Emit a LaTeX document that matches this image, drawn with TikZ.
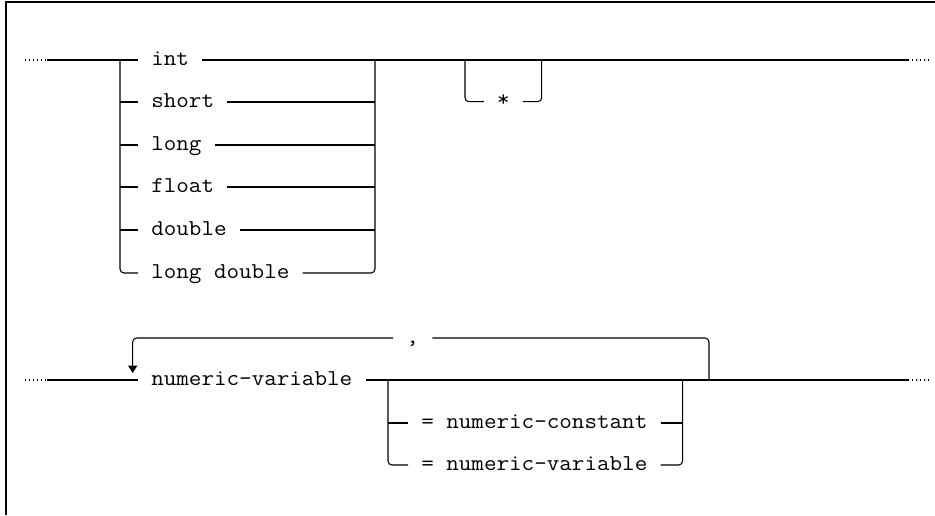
\documentclass[tikz,border=0pt]{standalone}
\usepackage{fontspec}
\newfontfamily\monofam{Latin Modern Mono}[FakeStretch=1.076]
\usetikzlibrary{arrows.meta}
\begin{document}
\begin{tikzpicture}[x=0.75pt,y=-0.75pt,
  rail/.style={line width=0.8pt,black},
  dotrail/.style={line width=0.8pt,black,dash pattern=on 0.75pt off 2.25pt},
  kw/.style={font=\monofam\fontsize{17pt}{20pt}\selectfont, inner xsep=9.75pt, inner ysep=0pt, text height=9pt, text depth=1.5pt},
  frame/.style={line width=1.75pt,black}]
\useasboundingbox (0,0) rectangle (935,515);
\draw[frame] (6,515) -- (6,2) -- (935,2);

% ---- upper diagram ----
\node[kw,anchor=west] (n1) at (138,60) {int};
\node[kw,anchor=west] (n2) at (138,102) {short};
\node[kw,anchor=west] (n3) at (138,145) {long};
\node[kw,anchor=west] (n4) at (138,187) {float};
\node[kw,anchor=west] (n5) at (138,230) {double};
\node[kw,anchor=west] (n6) at (138,273) {long double};
\node[kw] (star) at (503.3,101.7) {*};
\coordinate (L1) at (120,60);
\coordinate (R1) at (375,60);
\coordinate (S1) at (465,60);
\coordinate (S2) at (541.7,60);
\coordinate (E1) at (908,60);
\coordinate (D1) at (932,60);
\coordinate (B1) at (25,60);
\coordinate (B2) at (47,60);

\draw[dotrail] (B1) -- (B2);
\draw[rail] (B2) -- (n1.west);
\draw[rail,rounded corners=3pt] (L1) -- (L1 |- n6.west) -- (n6.west);
\foreach \n in {n2,n3,n4,n5} \draw[rail] (L1 |- \n.west) -- (\n.west);
\foreach \n in {n1,n2,n3,n4,n5} \draw[rail] (\n.east) -- (R1 |- \n.east);
\draw[rail,rounded corners=3pt] (n6.east) -- (R1 |- n6.east) -- (R1);
\draw[rail] (R1) -- (E1);
\draw[dotrail] (E1) -- (D1);
\draw[rail,rounded corners=3pt] (S1) -- (S1 |- star.west) -- (star.west);
\draw[rail,rounded corners=3pt] (star.east) -- (S2 |- star.east) -- (S2);

% ---- lower diagram ----
\node[kw,anchor=west] (nv) at (138,380) {numeric-variable};
\node[kw,anchor=west] (oc) at (408,423) {= numeric-constant};
\node[kw,anchor=west] (ov) at (408,465) {= numeric-variable};
\node[kw] (comma) at (412.7,338) {,};
\coordinate (B3) at (25,380);
\coordinate (B4) at (47,380);
\coordinate (L2) at (388,380);
\coordinate (R2) at (682.6,380);
\coordinate (P1) at (709,380);
\coordinate (A1) at (132.7,373);
\coordinate (E2) at (908,380);
\coordinate (D2) at (932,380);

\draw[dotrail] (B3) -- (B4);
\draw[rail] (B4) -- (nv.west);
\draw[rail] (nv.east) -- (E2);
\draw[dotrail] (E2) -- (D2);
\draw[rail,rounded corners=3pt] (L2) -- (L2 |- ov.west) -- (ov.west);
\draw[rail] (L2 |- oc.west) -- (oc.west);
\draw[rail] (oc.east) -- (R2 |- oc.east);
\draw[rail,rounded corners=3pt] (ov.east) -- (R2 |- ov.east) -- (R2);
\draw[rail,rounded corners=3pt] (P1) -- (P1 |- comma.east) -- (comma.east);
\draw[rail,rounded corners=3pt,-{Triangle[width=6.75pt,length=5.5pt]}] (comma.west) -- (A1 |- comma.west) -- (A1);
\end{tikzpicture}
\end{document}
